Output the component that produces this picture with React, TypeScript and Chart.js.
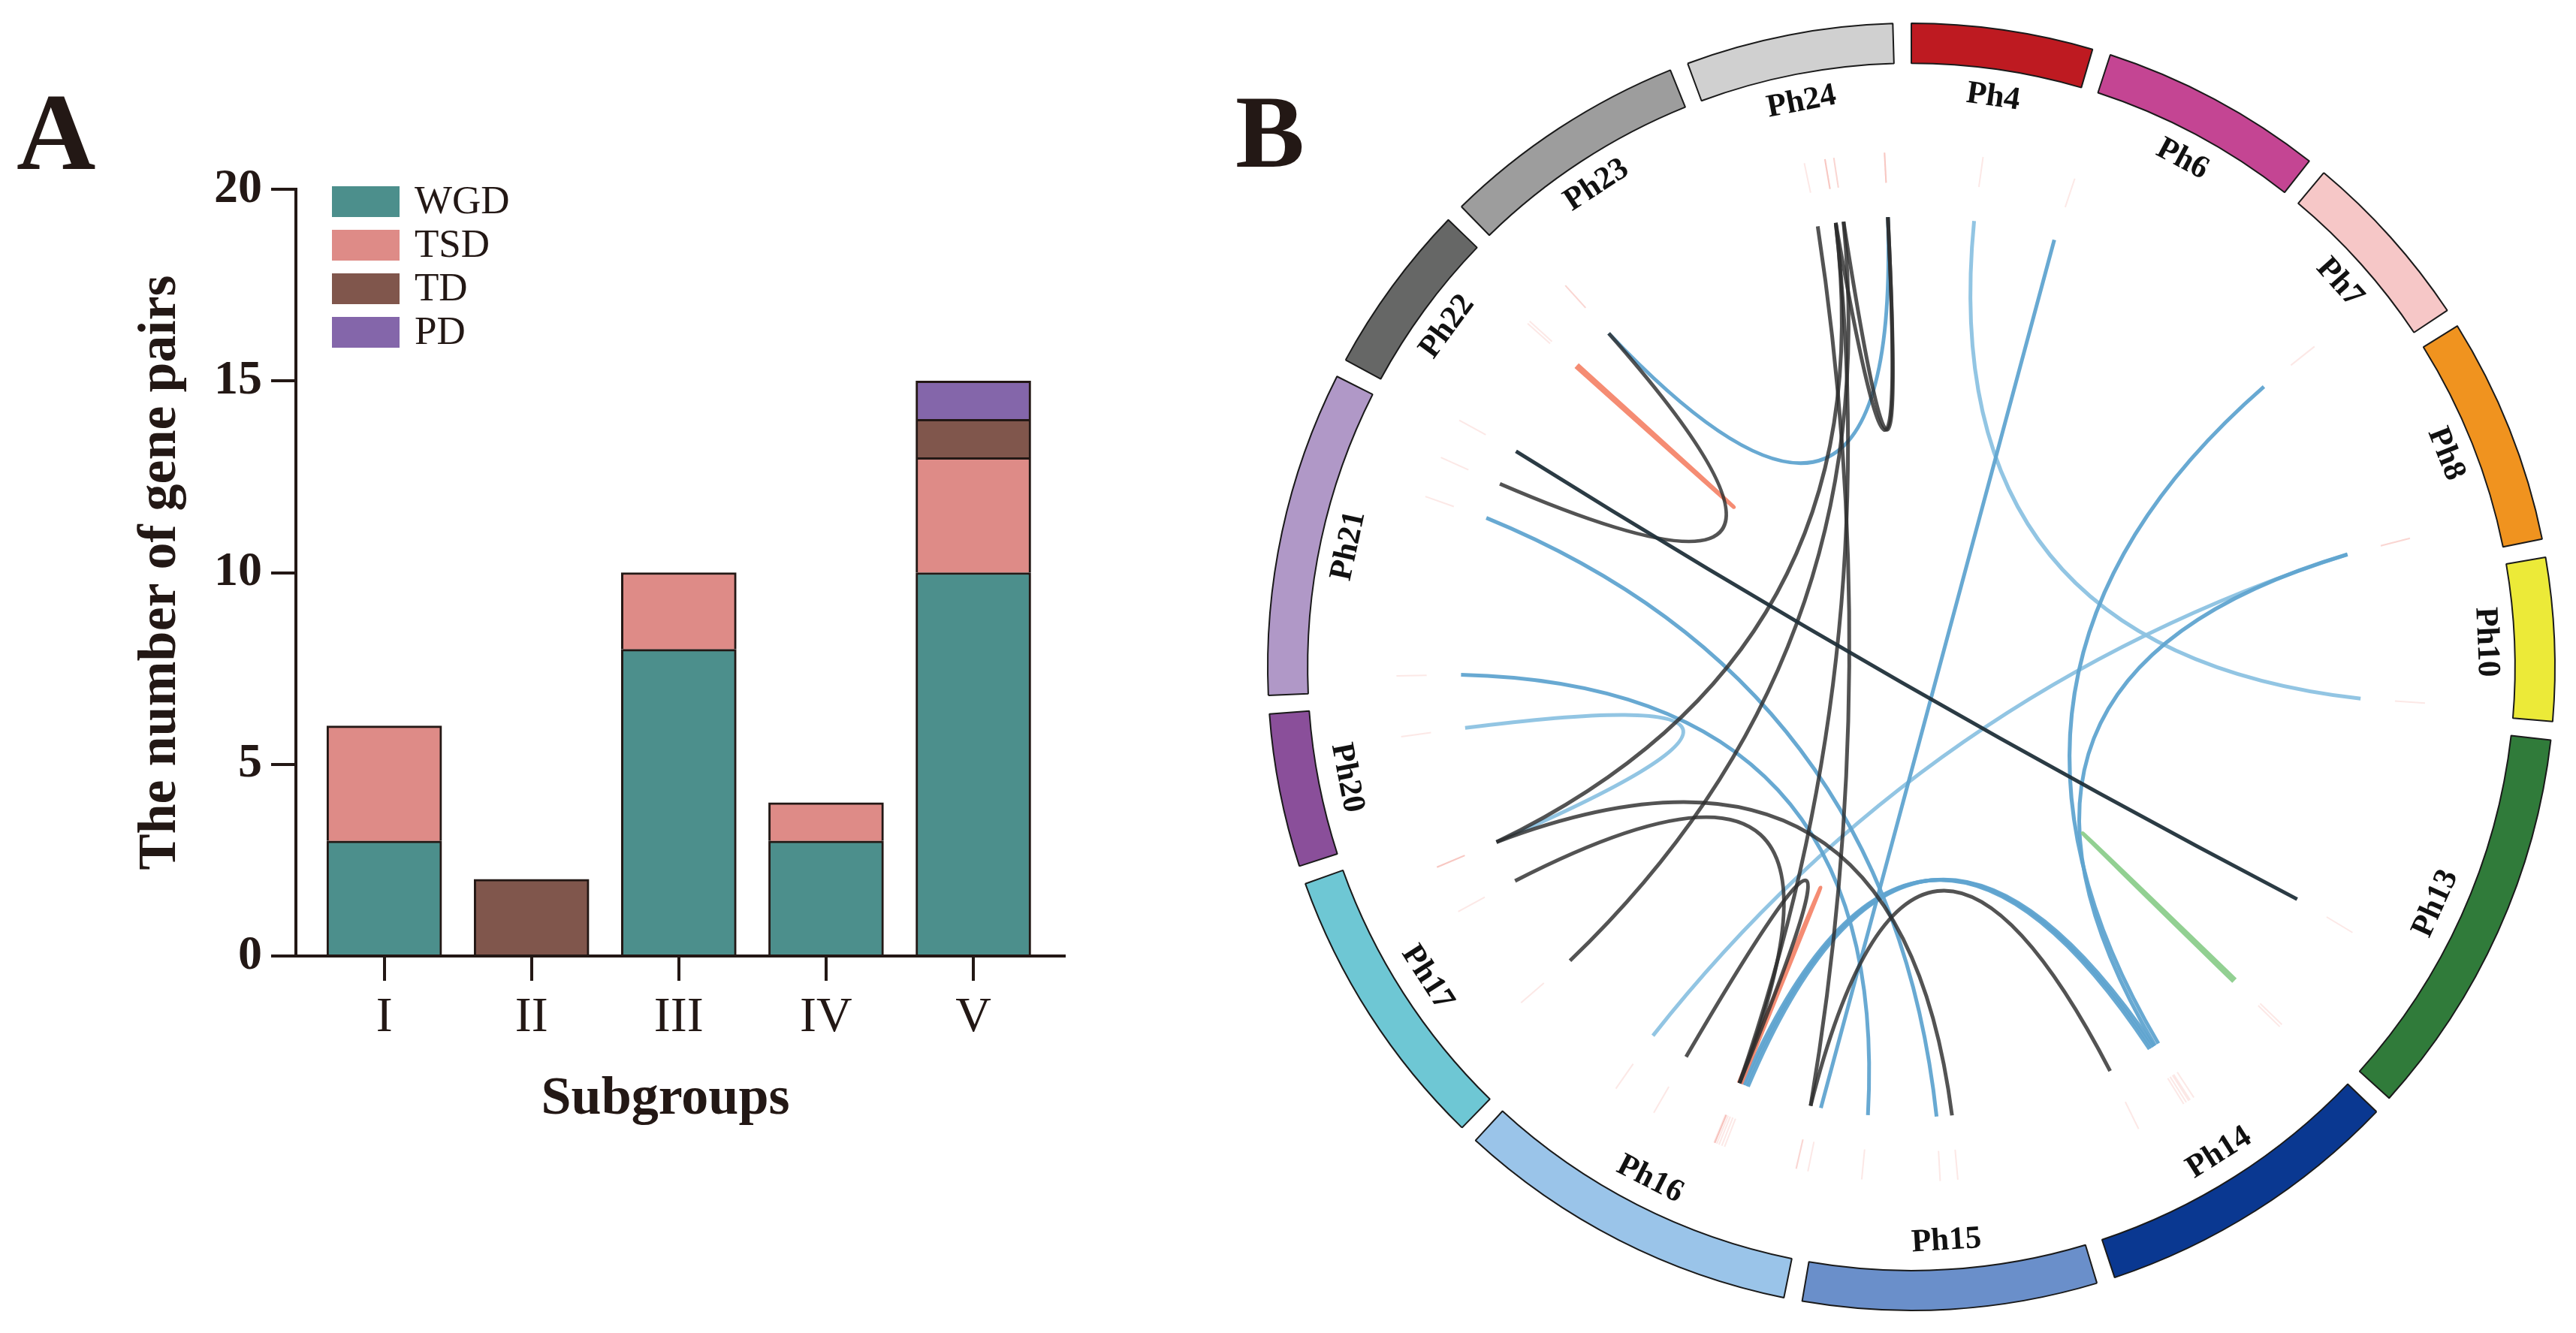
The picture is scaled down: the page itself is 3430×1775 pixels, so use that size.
import React, { useEffect, useRef } from 'react';
import { Chart, registerables } from 'chart.js';

Chart.register(...registerables);

const FONT = '"Liberation Serif", "Times New Roman", serif';
const INK = '#231815';

// ---------- Panel A data ----------
const subgroups = ['I', 'II', 'III', 'IV', 'V'];
const dupTypes = ['WGD', 'TSD', 'TD', 'PD'];
const wgdPairs = [3, null, 8, 3, 10];
const tsdPairs = [3, null, 2, 1, 3];
const tdPairs = [null, 2, null, null, 1];
const pdPairs = [null, null, null, null, 1];
const dupColors = ['#4c8f8c', '#de8b87', '#80564c', '#8466aa'];
const xTitle = 'Subgroups';
const yTitle = 'The number of gene pairs';

// ---------- Panel B data ----------
const chromNames = ['Ph4', 'Ph6', 'Ph7', 'Ph8', 'Ph10', 'Ph13', 'Ph14', 'Ph15', 'Ph16', 'Ph17', 'Ph20', 'Ph21', 'Ph22', 'Ph23', 'Ph24'];
const chromLengths = [49, 60.5, 49.5, 61.5, 44, 106.5, 83.5, 79.5, 93.5, 78, 41.5, 88, 46.5, 67, 56];
const chromColors = ['#be1a21', '#c44593', '#f6c7c7', '#f0931f', '#ecea38', '#307b3a', '#0a3891', '#6a8fca', '#9ac4e9', '#6ec7d4', '#8a4f9a', '#b098c7', '#666766', '#9d9d9d', '#d0d0d0'];

const linkChrA = ['Ph24', 'Ph24', 'Ph24', 'Ph24', 'Ph24', 'Ph24', 'Ph23', 'Ph17', 'Ph16', 'Ph17', 'Ph16', 'Ph22', 'Ph23', 'Ph6', 'Ph7', 'Ph8', 'Ph16', 'Ph16', 'Ph16', 'Ph21', 'Ph21', 'Ph4', 'Ph8', 'Ph20', 'Ph22', 'Ph16', 'Ph14'];
const linkPosA = [25, 32, 32, 35, 32, 35, 6.4, 52, 55.7, 68.4, 4.5, 0.4, 6.4, 1.5, 35, 52.5, 29.5, 30.5, 31.5, 4.6, 65.5, 24, 52.5, 30.7, 40, 32.3, 0.8];
const linkChrB = ['Ph16', 'Ph16', 'Ph17', 'Ph17', 'Ph24', 'Ph24', 'Ph21', 'Ph16', 'Ph16', 'Ph15', 'Ph14', 'Ph13', 'Ph24', 'Ph16', 'Ph14', 'Ph14', 'Ph14', 'Ph14', 'Ph14', 'Ph15', 'Ph15', 'Ph10', 'Ph16', 'Ph17', 'Ph22', 'Ph16', 'Ph14'];
const linkPosB = [4.5, 33, 68.4, 15, 52, 52, 79.5, 33, 33, 34.7, 60.2, 73.5, 52, 0.5, 39, 40.5, 41, 42, 43, 66.8, 40.6, 41.5, 70.7, 68.4, 41, 33.3, 1.8];
const linkKind = ['black', 'black', 'black', 'black', 'black', 'black', 'black', 'black', 'black', 'black', 'black', 'dark', 'blue', 'blue', 'blue', 'blue', 'blue', 'blue', 'blue', 'blue', 'blue', 'light', 'light', 'light', 'red', 'red', 'green'];

const kindColors: Record<string, string> = {
  light: 'rgba(140,194,226,0.95)',
  blue: 'rgba(96,164,208,0.95)',
  green: 'rgba(140,206,140,0.95)',
  red: 'rgba(244,128,100,0.9)',
  black: 'rgba(45,45,45,0.82)',
  dark: 'rgba(32,48,58,0.95)',
};
const kindOrder = ['light', 'blue', 'green', 'red', 'black', 'dark'];
const GAP = 4.95;

// ---------- Panel A ----------
const barLegendPlugin = {
  id: 'barLegend',
  afterDraw(chart: any) {
    const { ctx, chartArea } = chart;
    ctx.save();
    chart.data.datasets.forEach((ds: any, i: number) => {
      const x = chartArea.left + 48;
      const y = chartArea.top - 4 + i * 58;
      ctx.fillStyle = ds.backgroundColor;
      ctx.fillRect(x, y, 90, 41);
      ctx.fillStyle = INK;
      ctx.font = `53px ${FONT}`;
      ctx.textBaseline = 'alphabetic';
      ctx.textAlign = 'left';
      ctx.fillText(ds.label, x + 110, y + 36);
    });
    // x-axis title
    ctx.font = `bold 72px ${FONT}`;
    ctx.textAlign = 'center';
    ctx.fillText(xTitle, chartArea.left + 492, chartArea.bottom + 210);
    // panel letter
    ctx.textAlign = 'left';
    ctx.font = `bold 146px ${FONT}`;
    ctx.fillText('A', 22, 225);
    ctx.restore();
  },
};

function BarPanel() {
  const ref = useRef<HTMLCanvasElement>(null);
  useEffect(() => {
    const series = [wgdPairs, tsdPairs, tdPairs, pdPairs];
    const axisBorder = { display: true, color: INK, width: 4 };
    const chart = new Chart(ref.current as HTMLCanvasElement, {
      type: 'bar',
      data: {
        datasets: series.map((s, k) => ({
          label: dupTypes[k],
          data: s.map((v, i) => ({ x: i, y: v })),
          backgroundColor: dupColors[k],
          borderColor: INK,
          borderWidth: { top: 3, left: 3, right: 3, bottom: 0 },
          borderSkipped: false,
          barThickness: 153,
        })),
      } as any,
      options: {
        responsive: false,
        animation: false,
        layout: { padding: { left: 0, top: 252, right: 203, bottom: 0 } },
        plugins: { legend: { display: false }, tooltip: { enabled: false } },
        scales: {
          x: {
            type: 'linear',
            stacked: true,
            offset: false,
            min: -0.6,
            max: 4.617,
            afterBuildTicks: (s: any) => { s.ticks = subgroups.map((_, i) => ({ value: i })); },
            afterFit: (s: any) => { s.height = 502; },
            ticks: {
              callback: (v: any) => subgroups[v as number],
              font: { family: FONT, size: 66 },
              color: INK,
              padding: 10,
              autoSkip: false,
              maxRotation: 0,
            },
            grid: { display: true, offset: false, drawOnChartArea: false, drawTicks: true, tickLength: 33, lineWidth: 4, color: INK },
            border: axisBorder,
            title: { display: false },
          },
          y: {
            stacked: true,
            min: 0,
            max: 20,
            afterFit: (s: any) => { s.width = 394; },
            ticks: { stepSize: 5, font: { family: FONT, size: 64, weight: 'bold' }, color: INK, padding: 12 },
            grid: { display: true, drawOnChartArea: false, drawTicks: true, tickLength: 33, lineWidth: 4, color: INK },
            border: axisBorder,
            title: {
              display: true,
              text: yTitle,
              color: INK,
              font: { family: FONT, size: 72, weight: 'bold' },
              padding: { top: 171, bottom: 0 },
            },
          },
        },
      } as any,
      plugins: [barLegendPlugin],
    });
    return () => chart.destroy();
  }, []);
  return (
    <canvas
      ref={ref}
      width={1620}
      height={1775}
      style={{ position: 'absolute', left: 0, top: 0, width: 1620, height: 1775 }}
    />
  );
}

// ---------- Panel B ----------
const circosPlugin = {
  id: 'circos',
  afterDatasetsDraw(chart: any) {
    const ctx = chart.ctx as CanvasRenderingContext2D;
    const arcs = chart.getDatasetMeta(0).data as any[];
    const first = arcs[0];
    const cx = first.x;
    const cy = first.y;
    const inner = first.innerRadius;
    const R = inner * 0.746;
    const angleOf = (chr: string, pos: number) => {
      const i = chromNames.indexOf(chr);
      const a = arcs[2 * i];
      return a.startAngle + ((a.endAngle - a.startAngle) * pos) / chromLengths[i];
    };
    ctx.save();

    // gene position ticks (very faint)
    ctx.strokeStyle = 'rgba(238,140,130,0.2)';
    ctx.lineWidth = 2;
    const r0 = inner * 0.803;
    const r1 = inner * 0.853;
    linkChrA.forEach((c, i) => {
      [angleOf(c, linkPosA[i]), angleOf(linkChrB[i], linkPosB[i])].forEach((a) => {
        ctx.beginPath();
        ctx.moveTo(cx + r0 * Math.cos(a), cy + r0 * Math.sin(a));
        ctx.lineTo(cx + r1 * Math.cos(a), cy + r1 * Math.sin(a));
        ctx.stroke();
      });
    });

    // links
    ctx.lineWidth = 5;
    ctx.lineCap = 'butt';
    kindOrder.forEach((kind) => {
      linkChrA.forEach((c, i) => {
        if (linkKind[i] !== kind) return;
        const a1 = angleOf(c, linkPosA[i]);
        const a2 = angleOf(linkChrB[i], linkPosB[i]);
        let d = a2 - a1;
        while (d > Math.PI) d -= 2 * Math.PI;
        while (d < -Math.PI) d += 2 * Math.PI;
        const mid = a1 + d / 2;
        const k = 0.06 * R;
        ctx.strokeStyle = kindColors[kind];
        ctx.beginPath();
        ctx.moveTo(cx + R * Math.cos(a1), cy + R * Math.sin(a1));
        ctx.quadraticCurveTo(cx + k * Math.cos(mid), cy + k * Math.sin(mid), cx + R * Math.cos(a2), cy + R * Math.sin(a2));
        ctx.stroke();
      });
    });

    // chromosome labels
    ctx.fillStyle = '#111111';
    ctx.font = `bold 43px ${FONT}`;
    ctx.textAlign = 'center';
    ctx.textBaseline = 'middle';
    const rl = inner * 0.953;
    chromNames.forEach((name, i) => {
      const a = arcs[2 * i];
      const m = (a.startAngle + a.endAngle) / 2;
      let deg = ((m + Math.PI / 2) * 180) / Math.PI;
      deg = ((deg % 360) + 360) % 360;
      const flip = deg > 90 && deg < 270;
      ctx.save();
      ctx.translate(cx + rl * Math.cos(m), cy + rl * Math.sin(m));
      ctx.rotate(flip ? m - Math.PI / 2 : m + Math.PI / 2);
      ctx.fillText(name, 0, 0);
      ctx.restore();
    });

    // panel letter
    ctx.fillStyle = INK;
    ctx.textAlign = 'left';
    ctx.textBaseline = 'alphabetic';
    ctx.font = `bold 138px ${FONT}`;
    ctx.fillText('B', 25, 222);
    ctx.restore();
  },
};

function CircosPanel() {
  const ref = useRef<HTMLCanvasElement>(null);
  useEffect(() => {
    const values: number[] = [];
    const colors: string[] = [];
    const borders: number[] = [];
    const labels: string[] = [];
    chromNames.forEach((n, i) => {
      values.push(chromLengths[i], GAP);
      colors.push(chromColors[i], 'rgba(0,0,0,0)');
      borders.push(2, 0);
      labels.push(n, '');
    });
    const chart = new Chart(ref.current as HTMLCanvasElement, {
      type: 'doughnut',
      data: {
        labels,
        datasets: [
          {
            data: values,
            backgroundColor: colors,
            borderColor: '#1a1a1a',
            borderWidth: borders,
          },
        ],
      },
      options: {
        responsive: false,
        animation: false,
        cutout: '93.8%',
        layout: { padding: { left: 67, top: 30, right: 27, bottom: 29 } },
        plugins: { legend: { display: false }, tooltip: { enabled: false } },
      } as any,
      plugins: [circosPlugin],
    });
    return () => chart.destroy();
  }, []);
  return (
    <canvas
      ref={ref}
      width={1810}
      height={1775}
      style={{ position: 'absolute', left: 1620, top: 0, width: 1810, height: 1775 }}
    />
  );
}

export default function App() {
  return (
    <div style={{ position: 'absolute', left: 0, top: 0, width: 3430, height: 1775, background: '#ffffff', overflow: 'hidden' }}>
      <BarPanel />
      <CircosPanel />
    </div>
  );
}
